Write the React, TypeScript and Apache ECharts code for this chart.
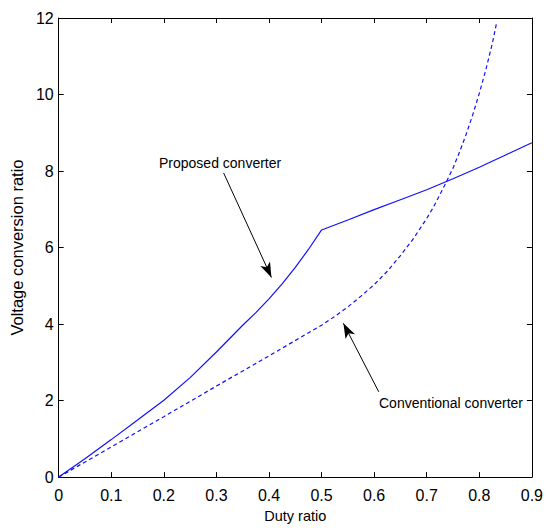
import React, { useEffect, useRef } from "react";
import * as echarts from "echarts";

// Proposed converter (solid)
const dutyProposed = [0, 0.05, 0.1, 0.15, 0.2, 0.25, 0.3, 0.35, 0.375, 0.4, 0.425, 0.45, 0.475, 0.5, 0.55, 0.6, 0.65, 0.7, 0.75, 0.8, 0.85, 0.9];
const gainProposed = [0, 0.48, 0.98, 1.49, 2.01, 2.6, 3.27, 3.97, 4.3, 4.66, 5.05, 5.48, 5.95, 6.46, 6.72, 6.99, 7.25, 7.51, 7.8, 8.1, 8.42, 8.74];

// Conventional converter (dashed)
const dutyConventional = [0, 0.1, 0.2, 0.3, 0.4, 0.5, 0.525, 0.55, 0.575, 0.6, 0.625, 0.65, 0.675, 0.7, 0.7125, 0.725, 0.7375, 0.75, 0.7625, 0.775, 0.7875, 0.8, 0.8125, 0.825, 0.833];
const gainConventional = [0, 0.79, 1.58, 2.38, 3.17, 3.97, 4.2, 4.45, 4.73, 5.03, 5.38, 5.79, 6.24, 6.76, 7.05, 7.38, 7.72, 8.08, 8.5, 8.96, 9.47, 10.03, 10.65, 11.35, 11.88];

// Annotation arrows: [tail duty, tail gain, head duty, head gain]
const arrowProposed = [0.3137, 7.95, 0.4046, 5.22];
const arrowConventional = [0.6087, 2.23, 0.5415, 4.02];

const xTicks = [0, 0.1, 0.2, 0.3, 0.4, 0.5, 0.6, 0.7, 0.8, 0.9];
const yTicks = [0, 2, 4, 6, 8, 10, 12];

const FONT = "'Liberation Sans', Arial, sans-serif";

export default function App() {
  const ref = useRef<HTMLDivElement>(null);
  useEffect(() => {
    if (!ref.current) return;
    const chart = echarts.init(ref.current, undefined, { renderer: "svg" });
    const blue = "#1010ff";
    const axisCommon = {
      type: "value" as const,
      axisLine: { show: true, onZero: false, lineStyle: { color: "#000", width: 1 } },
      axisTick: { show: true, inside: true, length: 5, lineStyle: { color: "#000" } },
      splitLine: { show: false },
    };
    const arrowLine = (a: number[]) => [
      { coord: [a[0], a[1]], symbol: "none" },
      { coord: [a[2], a[3]], symbol: "arrow", symbolSize: [8, 15] },
    ];
    chart.setOption({
      animation: false,
      backgroundColor: "#fff",
      grid: { left: 54, right: 10, top: 18, bottom: 48, show: false },
      xAxis: [
        {
          ...axisCommon,
          min: xTicks[0],
          max: xTicks[xTicks.length - 1],
          interval: 0.1,
          name: "Duty ratio",
          nameLocation: "middle",
          nameGap: 29,
          nameTextStyle: { fontFamily: FONT, fontSize: 14.5, color: "#000" },
          axisLabel: {
            fontFamily: FONT,
            fontSize: 16,
            color: "#000",
            margin: 10,
            formatter: (v: number) => (v === 0 ? "0" : v.toFixed(1)),
          },
        },
        {
          ...axisCommon,
          position: "top",
          min: xTicks[0],
          max: xTicks[xTicks.length - 1],
          interval: 0.1,
          axisLabel: { show: false },
        },
      ],
      yAxis: [
        {
          ...axisCommon,
          min: yTicks[0],
          max: yTicks[yTicks.length - 1],
          interval: 2,
          name: "Voltage conversion ratio",
          nameLocation: "middle",
          nameGap: 27,
          nameTextStyle: { fontFamily: FONT, fontSize: 16.5, color: "#000" },
          axisLabel: { fontFamily: FONT, fontSize: 16, color: "#000", margin: 5 },
        },
        {
          ...axisCommon,
          position: "right",
          min: yTicks[0],
          max: yTicks[yTicks.length - 1],
          interval: 2,
          axisLabel: { show: false },
        },
      ],
      series: [
        {
          type: "line",
          data: dutyProposed.map((d, i) => [d, gainProposed[i]]),
          showSymbol: false,
          symbol: "none",
          lineStyle: { color: blue, width: 1.2, type: "solid" },
          silent: true,
          markLine: {
            silent: true,
            animation: false,
            label: { show: false },
            lineStyle: { color: "#000", width: 1, type: "solid" },
            itemStyle: { color: "#000" },
            data: [arrowLine(arrowProposed), arrowLine(arrowConventional)],
          },
        },
        {
          type: "line",
          data: dutyConventional.map((d, i) => [d, gainConventional[i]]),
          showSymbol: false,
          symbol: "none",
          lineStyle: { color: blue, width: 1.2, type: [4, 3] },
          silent: true,
        },
      ],
      graphic: [
        {
          type: "text",
          left: 159,
          top: 156,
          style: { text: "Proposed converter", fontFamily: FONT, fontSize: 14, fill: "#000" },
        },
        {
          type: "text",
          left: 379,
          top: 396,
          style: { text: "Conventional converter", fontFamily: FONT, fontSize: 14, fill: "#000" },
        },
      ],
    });
    return () => chart.dispose();
  }, []);
  return (
    <div
      ref={ref}
      style={{ position: "absolute", left: 0, top: 0, width: 546, height: 528 }}
    />
  );
}
